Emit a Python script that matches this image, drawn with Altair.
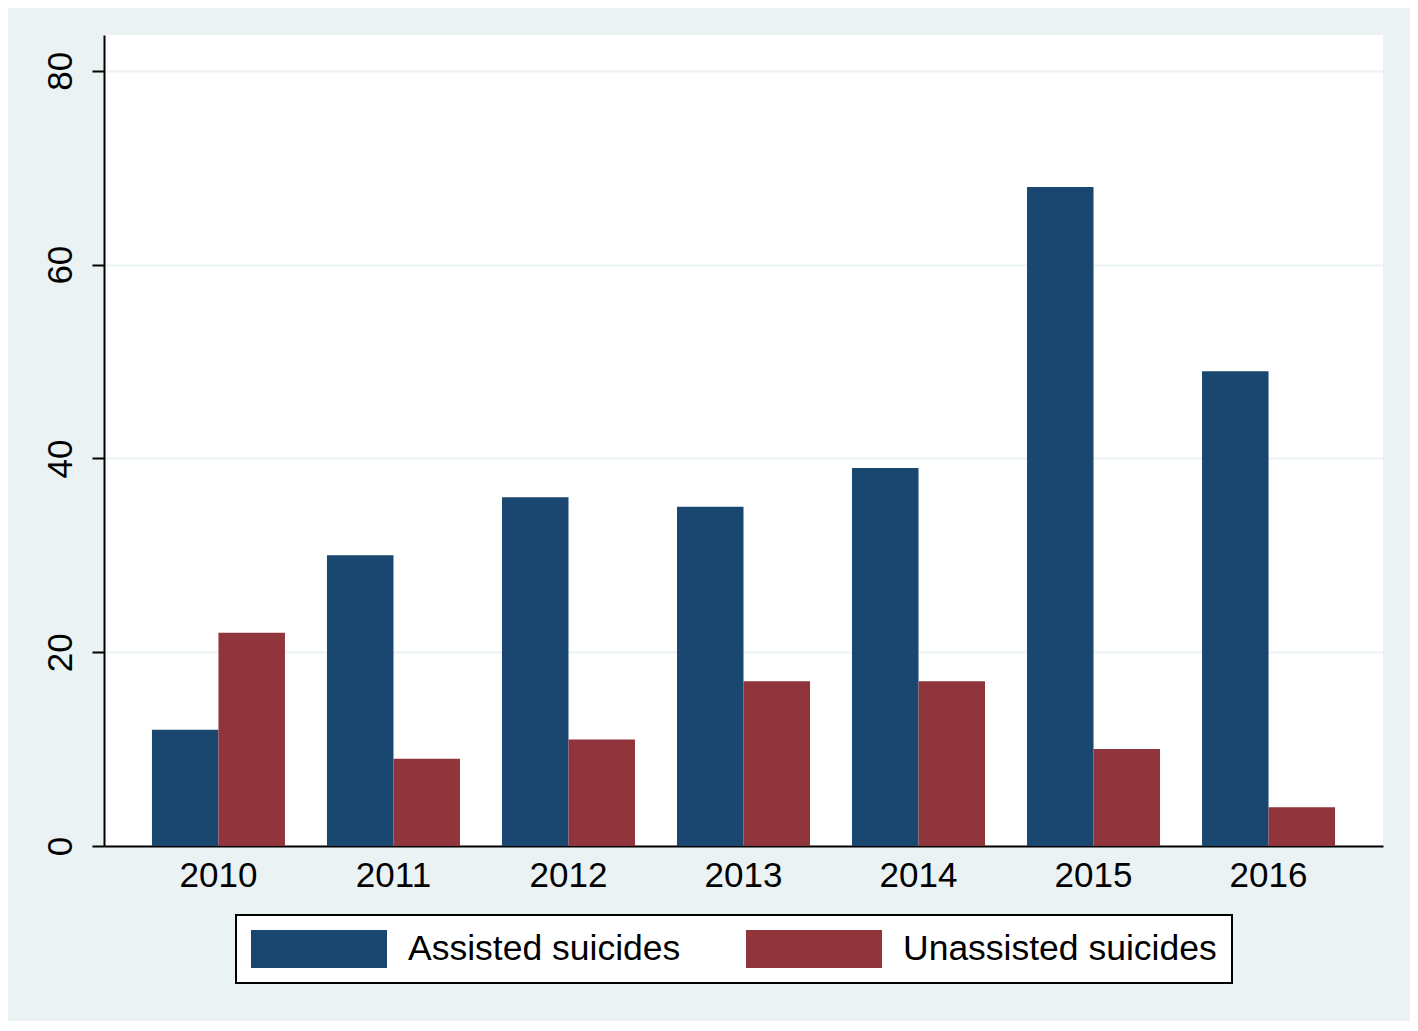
import altair as alt
import pandas as pd

years = ["2010", "2011", "2012", "2013", "2014", "2015", "2016"]
assisted = [12, 30, 36, 35, 39, 68, 49]
unassisted = [22, 9, 11, 17, 17, 10, 4]
series = ["Assisted suicides", "Unassisted suicides"]
colors = ["#1A476F", "#90353B"]
y_ticks = [0, 20, 40, 60, 80]

rows = []
for i, yr in enumerate(years):
    rows.append({"year": yr, "series": series[0], "value": assisted[i]})
    rows.append({"year": yr, "series": series[1], "value": unassisted[i]})
df = pd.DataFrame(rows)

FONT = "Liberation Sans"
BG = "#EAF2F3"

chart = alt.Chart(df).mark_bar(strokeWidth=0).encode(
    x=alt.X("year:N", sort=years,
            scale=alt.Scale(paddingInner=0.24, paddingOuter=0.274),
            axis=alt.Axis(title=None, labelAngle=0, ticks=False, domainColor="black",
                          domainWidth=2, labelFontSize=35, labelColor="black",
                          labelFont=FONT, labelPadding=12, grid=False)),
    xOffset=alt.XOffset("series:N", sort=series),
    y=alt.Y("value:Q", scale=alt.Scale(domain=[0, 83.7], nice=False, zero=True),
            axis=alt.Axis(title=None, values=y_ticks, labelAngle=270, tickColor="black",
                          tickSize=12, tickWidth=2, domainColor="black", domainWidth=2,
                          labelFontSize=35, labelColor="black", labelFont=FONT,
                          labelPadding=14, grid=True, gridColor=BG, gridWidth=2,
                          labelAlign="center", labelBaseline="bottom")),
    color=alt.Color("series:N", sort=series,
                    scale=alt.Scale(domain=series, range=colors),
                    legend=alt.Legend(title=None, orient="none", direction="horizontal",
                                      legendX=132, legendY=880,
                                      symbolType="M-1,-1H6.158V1H-1Z",
                                      symbolSize=1444, symbolStrokeWidth=0,
                                      symbolOpacity=1,
                                      labelFontSize=35.5, labelFont=FONT, labelColor="black",
                                      labelLimit=0, labelOffset=119, columnPadding=65,
                                      padding=15, fillColor="white", strokeColor="black")),
).properties(
    width=1279, height=811,
    background=BG,
    padding={"left": 96, "top": 27, "right": 27, "bottom": 175},
    autosize=alt.AutoSizeParams(type="none"),
).configure_view(stroke=None, fill="white").configure_legend(strokeWidth=2)

chart.save("out.html", embed_options={"renderer": "svg", "actions": False})
